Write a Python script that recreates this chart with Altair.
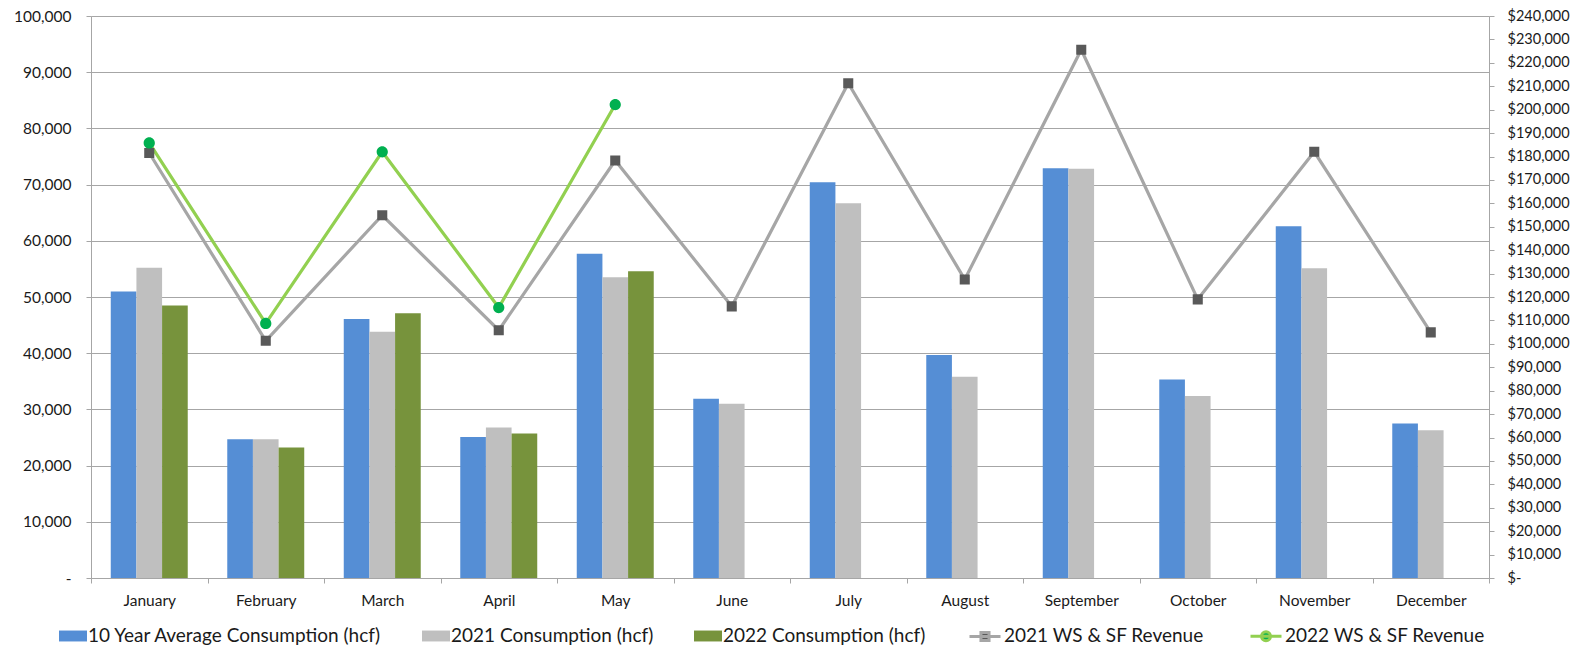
import altair as alt
import pandas as pd

months = ["January", "February", "March", "April", "May", "June", "July",
          "August", "September", "October", "November", "December"]

bar_series = ["10 Year Average Consumption (hcf)", "2021 Consumption (hcf)",
              "2022 Consumption (hcf)"]
avg10 = [51000, 24700, 46100, 25100, 57700, 31900, 70400, 39700, 72900, 35300, 62600, 27500]
cons2021 = [55200, 24700, 43800, 26800, 53500, 31000, 66700, 35800, 72800, 32400, 55100, 26300]
cons2022 = [48500, 23200, 47100, 25700, 54600]

line_series = ["2021 WS & SF Revenue", "2022 WS & SF Revenue"]
rev2021 = [181500, 101300, 154900, 105800, 178300, 116000, 211300, 127500, 225600, 119000, 182000, 104900]
rev2022 = [185800, 108700, 182000, 115500, 202200]

bar_rows = []
for s, vals in zip(bar_series, [avg10, cons2021, cons2022]):
    for m, v in zip(months, vals):
        bar_rows.append({"Month": m, "Series": s, "Value": v})
bars_df = pd.DataFrame(bar_rows)

rev_rows = []
for s, vals in zip(line_series, [rev2021, rev2022]):
    for m, v in zip(months, vals):
        rev_rows.append({"Month": m, "Line": s, "Revenue": v})
rev_df = pd.DataFrame(rev_rows)

FONT = "Lato"
GRID = "#A6A6A6"
TXT = "#1a1a1a"
LEG_Y = 606

x_enc = alt.X("Month:N", sort=months,
              scale=alt.Scale(paddingInner=0, paddingOuter=0),
              axis=alt.Axis(title=None, labelAngle=0, tickBand="extent", tickSize=5,
                            tickColor=GRID, domainColor=GRID, labelPadding=10,
                            labelFont=FONT, labelFontSize=15.5, labelColor=TXT, grid=False))

bars = alt.Chart(bars_df).mark_bar(strokeWidth=0).encode(
    x=x_enc,
    xOffset=alt.XOffset("Series:N", sort=bar_series,
                        scale=alt.Scale(domain=bar_series, paddingInner=0, paddingOuter=0.77)),
    y=alt.Y("Value:Q",
            scale=alt.Scale(domain=[0, 100000], nice=False, zero=True),
            axis=alt.Axis(title=None, values=list(range(0, 100001, 10000)),
                          labelExpr="datum.value == 0 ? '-\u00a0\u00a0' : format(datum.value, ',')",
                          grid=True, gridColor=GRID, gridWidth=1, tickSize=5,
                          tickColor=GRID, domainColor=GRID, labelPadding=15,
                          labelFont=FONT, labelFontSize=15.5, labelColor=TXT)),
    color=alt.Color("Series:N", sort=bar_series,
                    scale=alt.Scale(domain=bar_series, range=["#558ED5", "#BFBFBF", "#77933C"]),
                    legend=alt.Legend(title=None, orient="none", legendX=-32, legendY=LEG_Y,
                                      direction="horizontal",
                                      symbolType="M-1,-0.39L1,-0.39L1,0.39L-1,0.39Z",
                                      symbolSize=784, symbolStrokeWidth=0,
                                      labelFont=FONT, labelFontSize=19, labelColor=TXT,
                                      labelOffset=1, columnPadding=40, labelLimit=500)),
)

leg_line = dict(title=None, orient="none", legendX=877, legendY=LEG_Y - 3,
                direction="horizontal", symbolSize=961, symbolStrokeWidth=3,
                labelFont=FONT, labelFontSize=19, labelColor=TXT,
                labelOffset=2, columnPadding=40, labelLimit=500)

y_rev = alt.Y("Revenue:Q",
              scale=alt.Scale(domain=[0, 240000], nice=False, zero=True),
              axis=alt.Axis(title=None, orient="right", values=list(range(0, 240001, 10000)),
                            labelExpr="datum.value == 0 ? '$-' : '$' + format(datum.value, ',')",
                            grid=False, tickSize=5, tickColor=GRID, domainColor=GRID,
                            labelPadding=13, labelFont=FONT, labelFontSize=14.5, labelColor=TXT))

stroke_enc = alt.Stroke("Line:N", sort=line_series,
                        scale=alt.Scale(domain=line_series, range=["#A6A6A6", "#92D050"]),
                        legend=alt.Legend(**leg_line))

base = alt.Chart(rev_df).encode(x=alt.X("Month:N", sort=months), y=y_rev)

lines = base.mark_line(strokeWidth=3.2).encode(stroke=stroke_enc, detail="Line:N")

square_path = "M-1,0L1,0M-0.26,-0.26L0.26,-0.26L0.26,0.26L-0.26,0.26Z"
circle_path = "M-1,0L1,0M0.29,0A0.29,0.29,0,1,1,-0.29,0A0.29,0.29,0,1,1,0.29,0Z"

points = base.mark_point(filled=True, opacity=1, size=1500, strokeWidth=0).encode(
    fill=alt.Fill("Line:N", sort=line_series,
                  scale=alt.Scale(domain=line_series, range=["#595959", "#00B050"]),
                  legend=alt.Legend(**leg_line)),
    shape=alt.Shape("Line:N", sort=line_series,
                    scale=alt.Scale(domain=line_series, range=[square_path, circle_path]),
                    legend=alt.Legend(**leg_line)),
    stroke=stroke_enc,
)

rev_layer = alt.layer(lines, points)

chart = alt.layer(bars, rev_layer).resolve_scale(y="independent").properties(
    width=1398, height=562,
    padding={"left": 83, "top": 8, "right": 81, "bottom": 68},
    autosize=alt.AutoSizeParams(type="none"),
).configure_view(stroke=None).configure(background="white")

chart.save("out.html", embed_options={"renderer": "svg", "actions": False})
